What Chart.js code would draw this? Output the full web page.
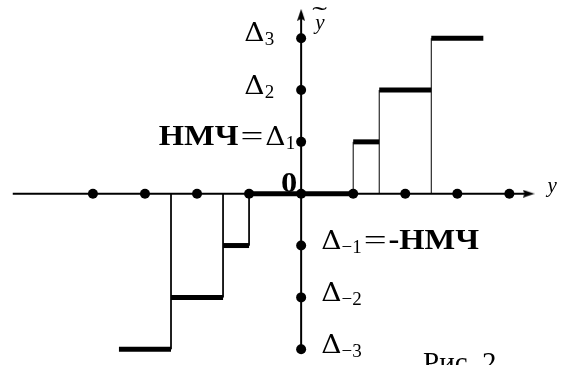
<!DOCTYPE html>
<html>
<head>
<meta charset="utf-8">
<script src="https://cdn.jsdelivr.net/npm/chart.js@4.4.1/dist/chart.umd.min.js"></script>
<style>
    html, body { margin: 0; padding: 0; background: #fff; }
    #wrap { width: 561px; height: 365px; }
</style>
</head>
<body>
<div id="wrap"><canvas id="quantChart" width="561" height="365"></canvas></div>
<script>
// Quantizer output levels (in units of Δ) and the input thresholds between them.
// Level i covers thresholds[i] .. thresholds[i + 1].
const levels = [-3, -2, -1, 0, 1, 2, 3];
const thresholds = [-3.5, -2.5, -1.5, -1, 1, 1.5, 2.5, 3.5];

// Dots marking the grid on both axes
const xDots = [-4, -3, -2, -1, 0, 1, 2, 3, 4];
const yDots = [-3, -2, -1, 1, 2, 3];

// Extent of the drawn axes
const xAxisRange = [-5.54, 4.31];
const yAxisRange = [-3.02, 3.49];

// Labels of the levels on the vertical axis: [text, kind]
// kind: d = symbol, e = relation sign, s = subscript, b = bold
const tickValues = [3, 2, 1, 0, -1, -2, -3];
const tickLabels = [
    [['Δ', 'd'], ['3', 's']],
    [['Δ', 'd'], ['2', 's']],
    [['НМЧ', 'b'], ['=', 'e'], ['Δ', 'd'], ['1', 's']],
    [['0', 'b']],
    [['Δ', 'd'], ['−1', 's'], ['=', 'e'], ['-НМЧ', 'b']],
    [['Δ', 'd'], ['−2', 's']],
    [['Δ', 'd'], ['−3', 's']]
];
const xAxisTitle = 'y';
const yAxisTitle = 'y';
const caption = 'Рис. 2';

const BLACK = '#000';

// --- arrowhead used as a point image ---
function makeArrow() {
    const c = document.createElement('canvas');
    c.width = 12; c.height = 8;
    const g = c.getContext('2d');
    g.fillStyle = BLACK;
    g.beginPath();
    g.moveTo(0, 0);
    g.lineTo(12, 4);
    g.lineTo(0, 8);
    g.lineTo(2, 4);
    g.closePath();
    g.fill();
    return c;
}
const arrow = makeArrow();

function segment(points, width) {
    return {
        data: points,
        showLine: true,
        borderColor: BLACK,
        borderWidth: width,
        borderCapStyle: 'butt',
        pointRadius: 0,
        pointHoverRadius: 0
    };
}

const datasets = [];

// axes
datasets.push(segment([{ x: xAxisRange[0], y: 0 }, { x: xAxisRange[1], y: 0 }], 2));
datasets.push(segment([{ x: 0, y: yAxisRange[0] }, { x: 0, y: yAxisRange[1] }], 2));

// risers from the axis up (or down) to the outer level at each threshold
for (let j = 1; j < thresholds.length - 1; j++) {
    const a = levels[j - 1], b = levels[j];
    const lv = Math.abs(a) > Math.abs(b) ? a : b;
    datasets.push(segment([{ x: thresholds[j], y: 0 }, { x: thresholds[j], y: lv }], 1));
}

// output levels as thick steps
levels.forEach((lv, i) => {
    datasets.push(segment([{ x: thresholds[i], y: lv }, { x: thresholds[i + 1], y: lv }], 5));
});

// grid dots
datasets.push({
    data: xDots.map(v => ({ x: v, y: 0 })).concat(yDots.map(v => ({ x: 0, y: v }))),
    pointRadius: 5,
    pointHoverRadius: 5,
    backgroundColor: BLACK,
    borderWidth: 0
});

// arrowheads
datasets.push({
    data: [{ x: xAxisRange[1] + 0.06, y: 0 }],
    pointStyle: arrow, rotation: 0
});
datasets.push({
    data: [{ x: 0, y: yAxisRange[1] - 0.04 }],
    pointStyle: arrow, rotation: -90
});

// font, horizontal stretch, baseline shift and side padding per kind of piece
const FONTS = {
    d: { font: '26px "DejaVu Serif"', sx: 1.08, dy: 0, pad: 0 },
    e: { font: '28px "Liberation Serif"', sx: 1.45, dy: 0, pad: 2 },
    s: { font: '19px "Liberation Serif"', sx: 1, dy: 4, pad: 0 },
    b: { font: 'bold 29px "Liberation Serif"', sx: 1.12, dy: 0, pad: 0 }
};

// where each level label sits, relative to the axis and the level
const labelPlacement = [
    { align: 'right', dx: -27, dy: 3 },
    { align: 'right', dx: -27, dy: 3.5 },
    { align: 'right', dx: -6, dy: 3.5 },
    { align: 'right', dx: -4, dy: -2 },
    { align: 'left', dx: 20, dy: 3 },
    { align: 'left', dx: 20, dy: 4 },
    { align: 'left', dx: 20, dy: 4 }
];

function drawPieces(ctx, pieces, x, y, align) {
    const widths = pieces.map(([t, k]) => {
        const f = FONTS[k];
        ctx.font = f.font;
        return ctx.measureText(t).width * f.sx + 2 * f.pad;
    });
    const total = widths.reduce((s, w) => s + w, 0);
    let cx = align === 'right' ? x - total : x;
    pieces.forEach(([t, k], i) => {
        const f = FONTS[k];
        ctx.save();
        ctx.font = f.font;
        ctx.translate(cx + f.pad, y + f.dy);
        ctx.scale(f.sx, 1);
        ctx.fillText(t, 0, 0);
        ctx.restore();
        cx += widths[i];
    });
}

const labelPlugin = {
    id: 'levelLabels',
    afterDraw(chart) {
        const { ctx, scales: { x, y } } = chart;
        const x0 = x.getPixelForValue(0);
        ctx.save();
        ctx.fillStyle = BLACK;
        ctx.textBaseline = 'alphabetic';
        ctx.textAlign = 'left';

        tickLabels.forEach((pieces, i) => {
            const p = labelPlacement[i];
            drawPieces(ctx, pieces, x0 + p.dx, y.getPixelForValue(tickValues[i]) + p.dy, p.align);
        });

        // axis titles
        ctx.font = 'italic 21px "Liberation Serif"';
        ctx.fillText(xAxisTitle, x.getPixelForValue(xAxisRange[1]) + 22, y.getPixelForValue(0) - 2);
        const ty = y.getPixelForValue(yAxisRange[1]);
        ctx.fillText(yAxisTitle, x0 + 14, ty + 16);
        ctx.save();
        ctx.translate(x0 + 11, ty + 11);
        ctx.scale(1.7, 1);
        ctx.font = '26px "Liberation Serif"';
        ctx.fillText('˜', 0, 0);
        ctx.restore();

        // caption
        ctx.font = '29px "Liberation Serif"';
        ctx.fillText(caption, 423, chart.height + 7);
        ctx.restore();
    }
};

new Chart(document.getElementById('quantChart'), {
    type: 'scatter',
    data: { datasets },
    options: {
        responsive: false,
        animation: false,
        layout: { padding: 0 },
        events: [],
        plugins: {
            legend: { display: false },
            tooltip: { enabled: false }
        },
        scales: {
            x: { type: 'linear', display: false, min: -5.689, max: 4.896 },
            y: { type: 'linear', display: false, min: -3.208, max: 3.64 }
        }
    },
    plugins: [labelPlugin]
});
</script>
</body>
</html>
